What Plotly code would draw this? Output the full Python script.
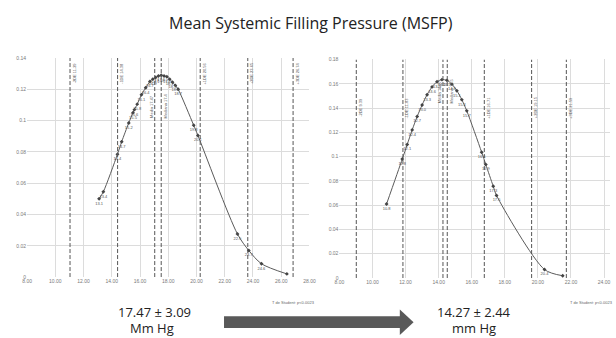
import plotly.graph_objects as go

# ---------------- data ----------------
title_text = "Mean Systemic Filling Pressure (MSFP)"

# left chart (before)
left_x = [13.1, 13.4, 14.4, 14.7, 15.2, 15.5, 15.6, 15.8, 16.1, 16.4, 16.7, 16.9, 17.1, 17.3,
          17.5, 17.7, 17.9, 18.1, 18.3, 18.5, 18.7, 19.8, 20.1, 22.9, 23.7, 24.6, 26.4]
left_y = [0.0500, 0.0545, 0.0785, 0.0865, 0.0985, 0.1050, 0.1070, 0.1105, 0.1165, 0.1210,
          0.1250, 0.1265, 0.1275, 0.1285, 0.1290, 0.1285, 0.1280, 0.1265, 0.1245, 0.1225,
          0.1200, 0.0970, 0.0905, 0.0275, 0.0170, 0.0085, 0.0020]
left_vlines = [11.04, 14.41, 17.04, 17.50, 20.26, 23.63, 26.84]
left_vline_labels = ["-2DE 11.29", "-1DE 14.38", "Media 17.47", "Mediana 17.4", "+1DE 20.56", "+2DE 23.65", "+3DE 26.74"]
left_xticks = [8, 10, 12, 14, 16, 18, 20, 22, 24, 26, 28]
left_xtick_text = ["8.00", "10.00", "12.00", "14.00", "16.00", "18.00", "20.00", "22.00", "24.00", "26.00", "28.00"]
left_yticks = [0, 0.02, 0.04, 0.06, 0.08, 0.1, 0.12, 0.14]
left_ytick_text = ["0", "0.02", "0.04", "0.06", "0.08", "0.1", "0.12", "0.14"]

# right chart (after)
right_x = [10.85, 11.8, 12.1, 12.4, 12.7, 13.0, 13.3, 13.6, 13.9, 14.2, 14.5, 14.8, 15.1, 15.4,
           15.7, 16.6, 16.85, 17.3, 17.5, 20.4, 21.5]
right_y = [0.0610, 0.0980, 0.1100, 0.1220, 0.1330, 0.1425, 0.1510, 0.1574, 0.1617, 0.1634,
           0.1628, 0.1597, 0.1543, 0.1469, 0.1377, 0.1036, 0.0935, 0.0756, 0.0680, 0.0070, 0.0019]
right_vlines = [9.02, 11.84, 14.26, 14.52, 16.76, 19.62, 21.72]
right_vline_labels = ["-2DE 9.39", "-1DE 11.83", "Media 14.27", "Mediana 14.5", "+1DE 16.71", "+2DE 19.15", "+3DE 21.59"]
right_xticks = [8, 10, 12, 14, 16, 18, 20, 22, 24]
right_xtick_text = ["8.00", "10.00", "12.00", "14.00", "16.00", "18.00", "20.00", "22.00", "24.00"]
right_yticks = [0, 0.02, 0.04, 0.06, 0.08, 0.1, 0.12, 0.14, 0.16, 0.18]
right_ytick_text = ["0", "0.02", "0.04", "0.06", "0.08", "0.1", "0.12", "0.14", "0.16", "0.18"]

left_stat = "17.47 ± 3.09"
left_unit = "Mm Hg"
right_stat = "14.27 ± 2.44"
right_unit = "mm Hg"
test_text = "T de Student: p<0.0023"

# ---------------- figure ----------------
W, H = 616, 338
def px(x):
    return x / W
def py(y):
    return 1 - y / H

fig = go.Figure()

line_col = "#555555"
grid_col = "#dcdcdc"
tick_font = dict(family="Liberation Sans", size=5, color="#7a7a7a")

def add_series(xs, ys, xa, ya):
    fig.add_trace(go.Scatter(
        x=xs, y=ys, xaxis=xa, yaxis=ya, mode="lines+markers+text",
        line=dict(color="#5a5a5a", width=1, shape="spline", smoothing=0.8),
        marker=dict(size=3, color="#444444", symbol="diamond"),
        text=[f"{v:.1f}" for v in xs], textposition="bottom center",
        textfont=dict(family="Liberation Sans", size=4, color="#555555"),
        showlegend=False, hoverinfo="x+y"))

add_series(left_x, left_y, "x", "y")
add_series(right_x, right_y, "x2", "y2")

shapes = []
annotations = []

def add_vlines(vals, labels, xref, yref, ymax, label_pos):
    for i, (v, lab) in enumerate(zip(vals, labels)):
        shapes.append(dict(type="line", xref=xref, yref=yref, x0=v, x1=v, y0=0, y1=ymax,
                           line=dict(color=line_col, width=1, dash="4px,2px")))
        mid = i in (2, 3)
        annotations.append(dict(xref=xref, yref=yref, x=v, y=ymax * (label_pos[1] if mid else label_pos[0]),
                                text=lab, textangle=-90, showarrow=False,
                                xanchor="center", yanchor="middle",
                                xshift=(-4 if mid and i == 2 else 4),
                                font=dict(family="Liberation Sans", size=4, color="#555555")))

add_vlines(left_vlines, left_vline_labels, "x", "y", 0.14, (0.93, 0.78))
add_vlines(right_vlines, right_vline_labels, "x2", "y2", 0.18, (0.78, 0.855))

def txt(x, y, s, font):
    return dict(xref="paper", yref="paper", x=px(x), y=py(y), text=s, showarrow=False,
                xanchor="center", yanchor="middle", font=font)

big_font = dict(family="Open Sans", size=13, color="#222222")
small_font = dict(family="Liberation Sans", size=4, color="#666666")
annotations += [
    txt(312, 20, title_text, dict(family="Open Sans", size=16, color="#222222")),
    txt(152, 315, left_stat, big_font),
    txt(150, 331, left_unit, big_font),
    txt(478, 315, right_stat, big_font),
    txt(478, 331, right_unit, big_font),
    txt(294, 305, test_text, small_font),
    txt(597, 305, test_text, small_font),
]

# arrow
arrow_col = "#595959"
shapes.append(dict(type="rect", xref="paper", yref="paper", x0=px(223), x1=px(403), y0=py(331), y1=py(319),
                   fillcolor=arrow_col, line=dict(width=0)))
shapes.append(dict(type="path", xref="paper", yref="paper",
                   path=f"M {px(402)} {py(312)} L {px(416)} {py(325)} L {px(402)} {py(338)} Z",
                   fillcolor=arrow_col, line=dict(width=0)))

axis_common = dict(showgrid=True, gridcolor=grid_col, gridwidth=1, zeroline=False,
                   showline=False, ticks="", tickfont=tick_font)

fig.update_layout(
    width=W, height=H, margin=dict(l=0, r=0, t=0, b=0),
    paper_bgcolor="white", plot_bgcolor="white",
    shapes=shapes, annotations=annotations,
    xaxis=dict(domain=[px(22.5), px(310)], range=[8, 28], tickvals=left_xticks, ticktext=left_xtick_text,
               anchor="y", **axis_common),
    yaxis=dict(domain=[py(279), py(56)], range=[0, 0.14], tickvals=left_yticks, ticktext=left_ytick_text,
               anchor="x", **axis_common),
    xaxis2=dict(domain=[px(340.5), px(616)], range=[8, 8 + (616 - 340.5) / 16.84], tickvals=right_xticks,
                ticktext=right_xtick_text, anchor="y2", **axis_common),
    yaxis2=dict(domain=[py(280), py(57.5)], range=[0, 0.18], tickvals=right_yticks, ticktext=right_ytick_text,
                anchor="x2", **axis_common),
)

fig.write_html("out.html", config={"displayModeBar": False},
               post_script="document.body.style.margin='0px';document.body.style.overflow='hidden';")
